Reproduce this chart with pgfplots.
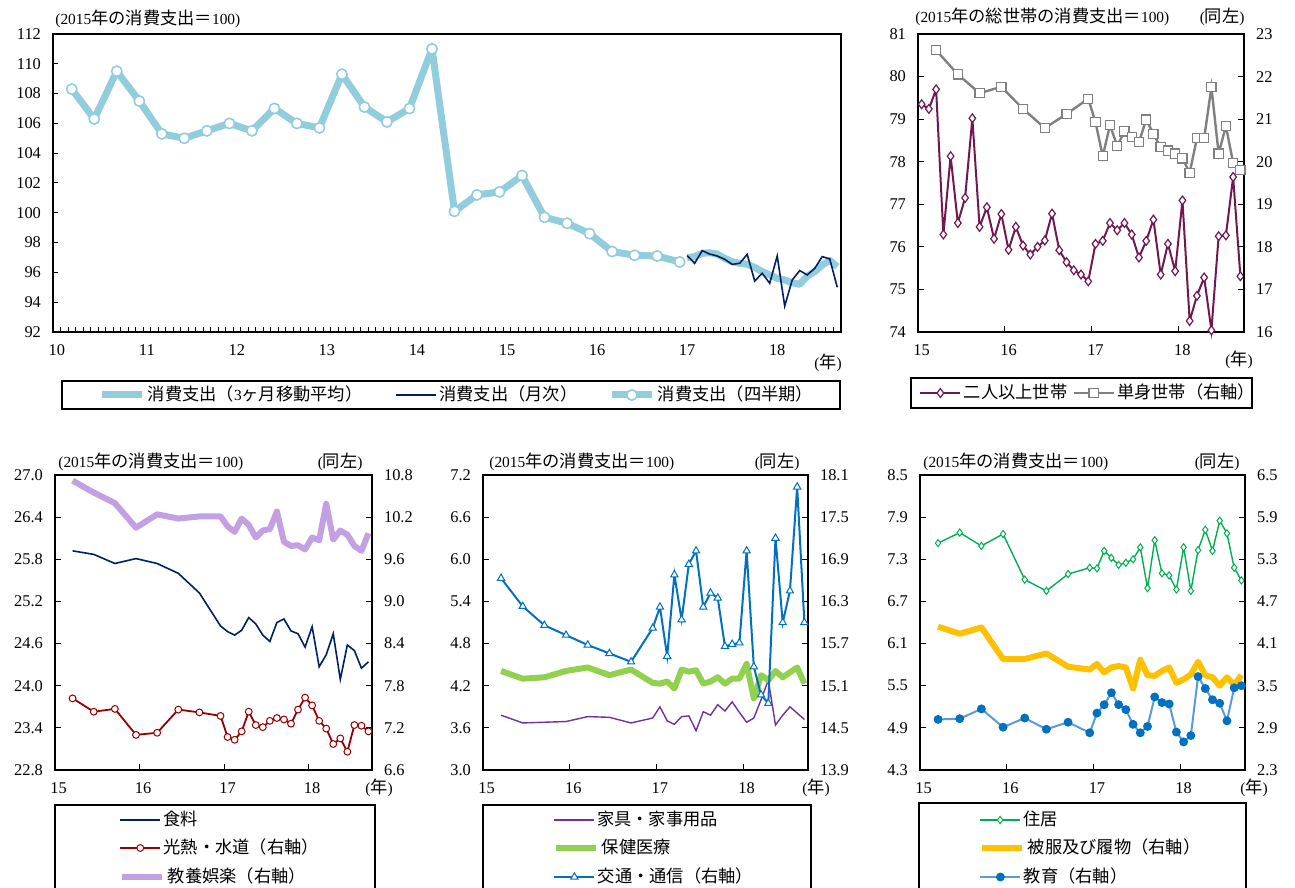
\documentclass[border=0pt]{standalone}
\usepackage{fontspec}
\setmainfont{Liberation Serif}
\newfontfamily\cjk[Scale=1.12]{Noto Sans CJK JP}
\usepackage{pgfplots}
\pgfplotsset{compat=1.18}
\newcommand{\J}[1]{{\cjk #1}}
\newcommand{\fs}{\fontsize{7.7}{9}\selectfont}
\newcommand{\tfs}{\fontsize{8.2}{9.5}\selectfont}
\newcommand{\ttl}{(2015\J{年の消費支出＝}100)}

\definecolor{lblue}{RGB}{146,205,221}
\definecolor{navy}{RGB}{0,32,96}
\definecolor{plum}{RGB}{112,24,80}
\definecolor{gr}{RGB}{128,128,128}
\definecolor{dred}{RGB}{150,0,0}
\definecolor{lav}{RGB}{195,160,227}
\definecolor{purp}{RGB}{112,48,160}
\definecolor{lgreen}{RGB}{146,208,80}
\definecolor{mblue}{RGB}{0,112,192}
\definecolor{green2}{RGB}{0,176,80}
\definecolor{gold}{RGB}{255,192,0}
\definecolor{eblue}{RGB}{91,155,213}

\pgfplotsset{
  base/.style={scale only axis, anchor=south west, font=\tfs,
    axis line style={line width=1.4pt}, tick align=inside,
    major tick length=3pt, minor tick length=2.5pt,
    tick style={black, line width=0.5pt},
    /pgf/number format/assume math mode=true,
    xticklabel style={yshift=-3pt}, clip=false},
  botx/.style={xmin=-0.5, xmax=44.5, xtick pos=left,
    xtick={11.5,23.5,35.5}, xticklabels={},
    extra x ticks={0,12,24,36}, extra x tick labels={15,16,17,18},
    extra x tick style={major tick length=0pt}},
  dec1/.style={yticklabel style={/pgf/number format/fixed, /pgf/number format/fixed zerofill, /pgf/number format/precision=1}},
}

\newcommand{\legitem}[4]{%
\begin{axis}[hide axis, scale only axis, width=1pt, height=1pt, at={(#1,#2)}, anchor=south west,
  xmin=0, xmax=1, ymin=0, ymax=1,
  legend image code/.code={\draw[mark repeat=2,mark phase=2,##1] plot coordinates {(0pt,0pt) (10pt,0pt) (20pt,0pt)};},
  legend style={at={(0,0)}, anchor=west, draw=none, fill=none, inner sep=0pt, font=\fs, nodes={inner sep=1.2pt}}]
\addlegendimage{#3}
\addlegendentry{#4}
\end{axis}}

\begin{document}
\begin{tikzpicture}
\useasboundingbox (0,0) rectangle (647.5pt,444pt);

% ---------------- Panel 1 ----------------
\begin{axis}[base, at={(26.5pt,278pt)}, width=394pt, height=149pt,
  xmin=-0.5, xmax=104.5, ymin=92, ymax=112, ytick={92,94,...,112}, ytick pos=left, xtick pos=left,
  yticklabel style={xshift=-2.5pt},
  xtick={-0.5,0.5,...,104.5}, xticklabels={},
  extra x ticks={0,12,24,36,48,60,72,84,96}, extra x tick labels={10,11,12,13,14,15,16,17,18},
  extra x tick style={major tick length=0pt}, major tick length=2.5pt]
\addplot[lblue, line width=3.5pt, line join=round] coordinates {
(84,97.0)(85,97.06)(86,97.28)(87,97.32)(88,97.23)(89,96.94)(90,96.72)(91,96.61)(92,96.55)(93,96.34)(94,96.05)
(95,95.83)(96,95.6)(97,95.49)(98,95.3)(99,95.2)(100,95.75)(101,96.05)(102,96.5)(103,96.8)(104,96.38)};
\addplot[navy, line width=0.8pt] coordinates {
(84,97.12)(85,96.61)(86,97.46)(87,97.23)(88,97.10)(89,96.88)(90,96.54)(91,96.61)(92,97.21)(93,95.42)(94,95.94)
(95,95.27)(96,97.10)(97,93.74)(98,95.49)(99,96.12)(100,95.83)(101,96.27)(102,97.06)(103,96.90)(104,95.0)};
\addplot[lblue, line width=3.5pt, line join=round, mark=*, mark size=2.6pt, mark options={fill=white, draw=lblue, line width=0.8pt}] coordinates {
(2,108.3)(5,106.3)(8,109.5)(11,107.5)(14,105.3)(17,105.0)(20,105.5)(23,106.0)(26,105.5)(29,107.0)(32,106.0)(35,105.7)
(38,109.3)(41,107.1)(44,106.1)(47,107.0)(50,111.0)(53,100.1)(56,101.2)(59,101.4)(62,102.5)(65,99.7)(68,99.3)(71,98.6)
(74,97.4)(77,97.15)(80,97.1)(83,96.7)};
\node[anchor=west, font=\fs, inner sep=0pt] at (axis description cs:0,1) [xshift=1pt, yshift=7.5pt] {\ttl};
\end{axis}

% ---------------- Panel 2 ----------------
\begin{axis}[base, at={(459pt,278pt)}, width=163pt, height=149pt, botx,
  ymin=74, ymax=81, ytick={74,...,81}, ytick pos=left, yticklabel style={xshift=-2.5pt}]
\addplot[plum, line width=1pt, mark=diamond*, mark size=2.2pt, mark options={fill=white, solid, line width=0.6pt}] coordinates {
(0,79.35)(1,79.24)(2,79.70)(3,76.29)(4,78.13)(5,76.56)(6,77.15)(7,79.02)(8,76.47)(9,76.93)(10,76.19)(11,76.77)
(12,75.93)(13,76.47)(14,76.03)(15,75.82)(16,76.00)(17,76.15)(18,76.78)(19,75.92)(20,75.64)(21,75.45)(22,75.35)(23,75.19)
(24,76.07)(25,76.14)(26,76.56)(27,76.39)(28,76.56)(29,76.29)(30,75.75)(31,76.14)(32,76.64)(33,75.35)(34,76.07)(35,75.43)
(36,77.09)(37,74.26)(38,74.85)(39,75.28)(40,74.04)(41,76.25)(42,76.27)(43,77.64)(44,75.31)};
\node[anchor=west, font=\fs, inner sep=0pt] at (axis description cs:0,1) [xshift=-1.5pt, yshift=8.5pt] {(2015\J{年の総世帯の消費支出＝}100)};
\node[anchor=east, font=\fs, inner sep=0pt] at (axis description cs:1,1) [xshift=0.5pt, yshift=8.5pt] {(\J{同左})};
\end{axis}
\begin{axis}[base, at={(459pt,278pt)}, width=163pt, height=149pt, xmin=-0.5, xmax=44.5,
  axis x line=none, axis y line*=right, ymin=16, ymax=23, ytick={16,...,23}, yticklabel style={xshift=2.5pt}]
\addplot[gr, line width=1.2pt, mark=square*, mark size=2.3pt, mark options={fill=white, solid, line width=0.6pt}] coordinates {
(2,22.62)(5,22.05)(8,21.61)(11,21.76)(14,21.24)(17,20.79)(20,21.12)(23,21.48)
(24,20.93)(25,20.13)(26,20.86)(27,20.37)(28,20.71)(29,20.58)(30,20.46)(31,20.99)(32,20.65)(33,20.34)(34,20.26)(35,20.19)
(36,20.08)(37,19.74)(38,20.55)(39,20.55)(40,21.75)(41,20.19)(42,20.84)(43,19.97)(44,19.81)};
\end{axis}

% ---------------- Panel 3 ----------------
\begin{axis}[base, dec1, at={(27.5pt,59pt)}, width=158.5pt, height=147.5pt, botx,
  ymin=22.8, ymax=27.0, ytick={22.8,23.4,24.0,24.6,25.2,25.8,26.4,27.0}, ytick pos=left, yticklabel style={xshift=-2.5pt}]
\addplot[navy, line width=0.8pt] coordinates {
(2,25.92)(5,25.87)(8,25.74)(11,25.81)(14,25.74)(17,25.60)(20,25.32)(23,24.85)
(24,24.77)(25,24.72)(26,24.79)(27,24.97)(28,24.88)(29,24.72)(30,24.63)(31,24.90)(32,24.95)(33,24.78)(34,24.74)(35,24.55)
(36,24.84)(37,24.27)(38,24.44)(39,24.74)(40,24.09)(41,24.58)(42,24.50)(43,24.25)(44,24.34)};
\node[anchor=west, font=\fs, inner sep=0pt] at (axis description cs:0,1) [xshift=1.5pt, yshift=6.5pt] {\ttl};
\node[anchor=east, font=\fs, inner sep=0pt] at (axis description cs:1,1) [xshift=-4.5pt, yshift=6.5pt] {(\J{同左})};
\end{axis}
\begin{axis}[base, dec1, at={(27.5pt,59pt)}, width=158.5pt, height=147.5pt, xmin=-0.5, xmax=44.5,
  axis x line=none, axis y line*=right, ymin=6.6, ymax=10.8, ytick={6.6,7.2,7.8,8.4,9.0,9.6,10.2,10.8}, yticklabel style={xshift=2.5pt}]
\addplot[dred, line width=0.9pt, mark=*, mark size=1.7pt, mark options={fill=white, solid, line width=0.5pt}] coordinates {
(2,7.62)(5,7.43)(8,7.47)(11,7.10)(14,7.13)(17,7.46)(20,7.42)(23,7.37)
(24,7.07)(25,7.03)(26,7.15)(27,7.43)(28,7.24)(29,7.21)(30,7.30)(31,7.34)(32,7.32)(33,7.26)(34,7.46)(35,7.63)
(36,7.52)(37,7.30)(38,7.19)(39,6.97)(40,7.05)(41,6.86)(42,7.24)(43,7.23)(44,7.15)};
\addplot[lav, line width=3pt, line join=round] coordinates {
(2,10.72)(5,10.55)(8,10.40)(11,10.05)(14,10.24)(17,10.18)(20,10.21)(23,10.21)
(24,10.07)(25,9.99)(26,10.18)(27,10.09)(28,9.91)(29,10.01)(30,10.03)(31,10.28)(32,9.85)(33,9.79)(34,9.80)(35,9.74)
(36,9.91)(37,9.87)(38,10.39)(39,9.88)(40,10.01)(41,9.95)(42,9.79)(43,9.72)(44,9.97)};
\end{axis}

% ---------------- Panel 4 ----------------
\begin{axis}[base, dec1, at={(241.5pt,59pt)}, width=162.5pt, height=147.5pt, botx,
  ymin=3.0, ymax=7.2, ytick={3.0,3.6,4.2,4.8,5.4,6.0,6.6,7.2}, ytick pos=left, yticklabel style={xshift=-2.5pt}]
\addplot[purp, line width=0.7pt] coordinates {
(2,3.78)(5,3.67)(8,3.68)(11,3.69)(14,3.76)(17,3.75)(20,3.67)(23,3.74)
(24,3.90)(25,3.70)(26,3.65)(27,3.76)(28,3.77)(29,3.56)(30,3.83)(31,3.78)(32,3.93)(33,3.84)(34,3.97)(35,3.82)
(36,3.68)(37,3.74)(38,4.00)(39,4.28)(40,3.64)(41,3.78)(42,3.90)(43,3.81)(44,3.72)};
\addplot[lgreen, line width=3pt, line join=round] coordinates {
(2,4.41)(5,4.30)(8,4.32)(11,4.41)(14,4.46)(17,4.35)(20,4.43)(23,4.24)
(24,4.23)(25,4.26)(26,4.16)(27,4.43)(28,4.40)(29,4.42)(30,4.23)(31,4.26)(32,4.32)(33,4.23)(34,4.30)(35,4.30)
(36,4.51)(37,4.02)(38,4.35)(39,4.28)(40,4.41)(41,4.32)(42,4.39)(43,4.46)(44,4.23)};
\node[anchor=west, font=\fs, inner sep=0pt] at (axis description cs:0,1) [xshift=3pt, yshift=6.5pt] {\ttl};
\node[anchor=east, font=\fs, inner sep=0pt] at (axis description cs:1,1) [xshift=-4pt, yshift=6.5pt] {(\J{同左})};
\end{axis}
\begin{axis}[base, dec1, at={(241.5pt,59pt)}, width=162.5pt, height=147.5pt, xmin=-0.5, xmax=44.5,
  axis x line=none, axis y line*=right, ymin=13.9, ymax=18.1, ytick={13.9,14.5,15.1,15.7,16.3,16.9,17.5,18.1}, yticklabel style={xshift=2.5pt}]
\addplot[mblue, line width=1pt, mark=triangle*, mark size=2.1pt, mark options={fill=white, solid, line width=0.5pt}] coordinates {
(2,16.63)(5,16.23)(8,15.96)(11,15.82)(14,15.68)(17,15.56)(20,15.44)(23,15.92)
(24,16.22)(25,15.52)(26,16.68)(27,16.04)(28,16.83)(29,17.02)(30,16.22)(31,16.42)(32,16.35)(33,15.66)(34,15.69)(35,15.71)
(36,17.02)(37,15.37)(38,14.97)(39,14.85)(40,17.20)(41,16.00)(42,16.45)(43,17.93)(44,16.00)};
\end{axis}

% ---------------- Panel 5 ----------------
\begin{axis}[base, dec1, at={(460pt,59pt)}, width=162.5pt, height=147.5pt, botx,
  ymin=4.3, ymax=8.5, ytick={4.3,4.9,5.5,6.1,6.7,7.3,7.9,8.5}, ytick pos=left, yticklabel style={xshift=-2.5pt}]
\addplot[green2, line width=0.7pt, mark=diamond*, mark size=1.8pt, mark options={fill=white, solid, line width=0.5pt}] coordinates {
(2,7.53)(5,7.68)(8,7.49)(11,7.66)(14,7.01)(17,6.85)(20,7.09)(23,7.18)
(24,7.17)(25,7.42)(26,7.32)(27,7.22)(28,7.25)(29,7.30)(30,7.47)(31,6.89)(32,7.57)(33,7.10)(34,7.07)(35,6.87)
(36,7.47)(37,6.85)(38,7.43)(39,7.72)(40,7.42)(41,7.85)(42,7.67)(43,7.18)(44,7.00)};
\node[anchor=west, font=\fs, inner sep=0pt] at (axis description cs:0,1) [xshift=1.5pt, yshift=6.5pt] {\ttl};
\node[anchor=east, font=\fs, inner sep=0pt] at (axis description cs:1,1) [xshift=-2.5pt, yshift=6.5pt] {(\J{同左})};
\end{axis}
\begin{axis}[base, dec1, at={(460pt,59pt)}, width=162.5pt, height=147.5pt, xmin=-0.5, xmax=44.5,
  axis x line=none, axis y line*=right, ymin=2.3, ymax=6.5, ytick={2.3,2.9,3.5,4.1,4.7,5.3,5.9,6.5}, yticklabel style={xshift=2.5pt}]
\addplot[gold, line width=3pt, line join=round] coordinates {
(2,4.34)(5,4.24)(8,4.33)(11,3.88)(14,3.88)(17,3.96)(20,3.77)(23,3.73)
(24,3.81)(25,3.69)(26,3.76)(27,3.78)(28,3.76)(29,3.46)(30,3.87)(31,3.65)(32,3.64)(33,3.71)(34,3.76)(35,3.54)
(36,3.59)(37,3.66)(38,3.84)(39,3.65)(40,3.62)(41,3.50)(42,3.62)(43,3.51)(44,3.65)};
\addplot[eblue, line width=1pt, mark=*, mark size=1.7pt, mark options={fill=mblue, draw=mblue, solid}] coordinates {
(2,3.02)(5,3.03)(8,3.17)(11,2.91)(14,3.04)(17,2.88)(20,2.98)(23,2.83)
(24,3.11)(25,3.23)(26,3.40)(27,3.23)(28,3.16)(29,2.95)(30,2.83)(31,2.92)(32,3.34)(33,3.26)(34,3.24)(35,2.84)
(36,2.70)(37,2.79)(38,3.63)(39,3.46)(40,3.30)(41,3.25)(42,3.00)(43,3.47)(44,3.50)};
\end{axis}

% ---------------- (年) labels ----------------
\node[font=\fs, inner sep=0pt] at (414pt,262.5pt) {(\J{年})};
\node[font=\fs, inner sep=0pt] at (619.5pt,264pt) {(\J{年})};
\node[font=\fs, inner sep=0pt] at (189.5pt,50pt) {(\J{年})};
\node[font=\fs, inner sep=0pt] at (408pt,50pt) {(\J{年})};
\node[font=\fs, inner sep=0pt] at (627pt,50pt) {(\J{年})};

% ---------------- legend boxes ----------------
\draw[line width=0.6pt] (31pt,239.5pt) rectangle (420pt,253.5pt);
\draw[line width=0.6pt] (455.5pt,240pt) rectangle (626pt,255pt);
\draw[line width=0.6pt] (27.5pt,0pt) -- (27.5pt,41.5pt) -- (187.5pt,41.5pt) -- (187.5pt,0pt);
\draw[line width=0.6pt] (241.5pt,0pt) -- (241.5pt,41.5pt) -- (405.5pt,41.5pt) -- (405.5pt,0pt);
\draw[line width=0.6pt] (459.5pt,0pt) -- (459.5pt,42.5pt) -- (623pt,42.5pt) -- (623pt,0pt);

% ---------------- legend entries ----------------
\legitem{49pt}{246.5pt}{lblue, line width=3.5pt}{\J{消費支出（}3\J{ヶ月移動平均）}}
\legitem{197.5pt}{246.5pt}{navy, line width=0.8pt}{\J{消費支出（月次）}}
\legitem{304pt}{246.5pt}{lblue, line width=3.5pt, mark=*, mark size=2.6pt, mark options={fill=white, draw=lblue, line width=0.8pt}}{\J{消費支出（四半期）}}

\legitem{459.5pt}{247.5pt}{plum, line width=1pt, mark=diamond*, mark size=2.2pt, mark options={fill=white, solid, line width=0.6pt}}{\J{二人以上世帯}}
\legitem{536pt}{247.5pt}{gr, line width=1.2pt, mark=square*, mark size=2.3pt, mark options={fill=white, solid, line width=0.6pt}}{\J{単身世帯（右軸）}}

\legitem{59.5pt}{34pt}{navy, line width=0.8pt}{\J{食料}}
\legitem{59.5pt}{20pt}{dred, line width=0.9pt, mark=*, mark size=1.7pt, mark options={fill=white, solid, line width=0.5pt}}{\J{光熱・水道（右軸）}}
\legitem{59.5pt}{5.5pt}{lav, line width=3pt}{\J{教養娯楽（右軸）}}

\legitem{276.5pt}{34pt}{purp, line width=0.7pt}{\J{家具・家事用品}}
\legitem{276.5pt}{20pt}{lgreen, line width=3pt}{\J{保健医療}}
\legitem{276.5pt}{5.5pt}{mblue, line width=1pt, mark=triangle*, mark size=2.1pt, mark options={fill=white, solid, line width=0.5pt}}{\J{交通・通信（右軸）}}

\legitem{489.5pt}{34pt}{green2, line width=0.7pt, mark=diamond*, mark size=1.8pt, mark options={fill=white, solid, line width=0.5pt}}{\J{住居}}
\legitem{489.5pt}{20pt}{gold, line width=3pt}{\J{被服及び履物（右軸）}}
\legitem{489.5pt}{5.5pt}{eblue, line width=1pt, mark=*, mark size=1.7pt, mark options={fill=mblue, draw=mblue, solid}}{\J{教育（右軸）}}

\end{tikzpicture}
\end{document}
